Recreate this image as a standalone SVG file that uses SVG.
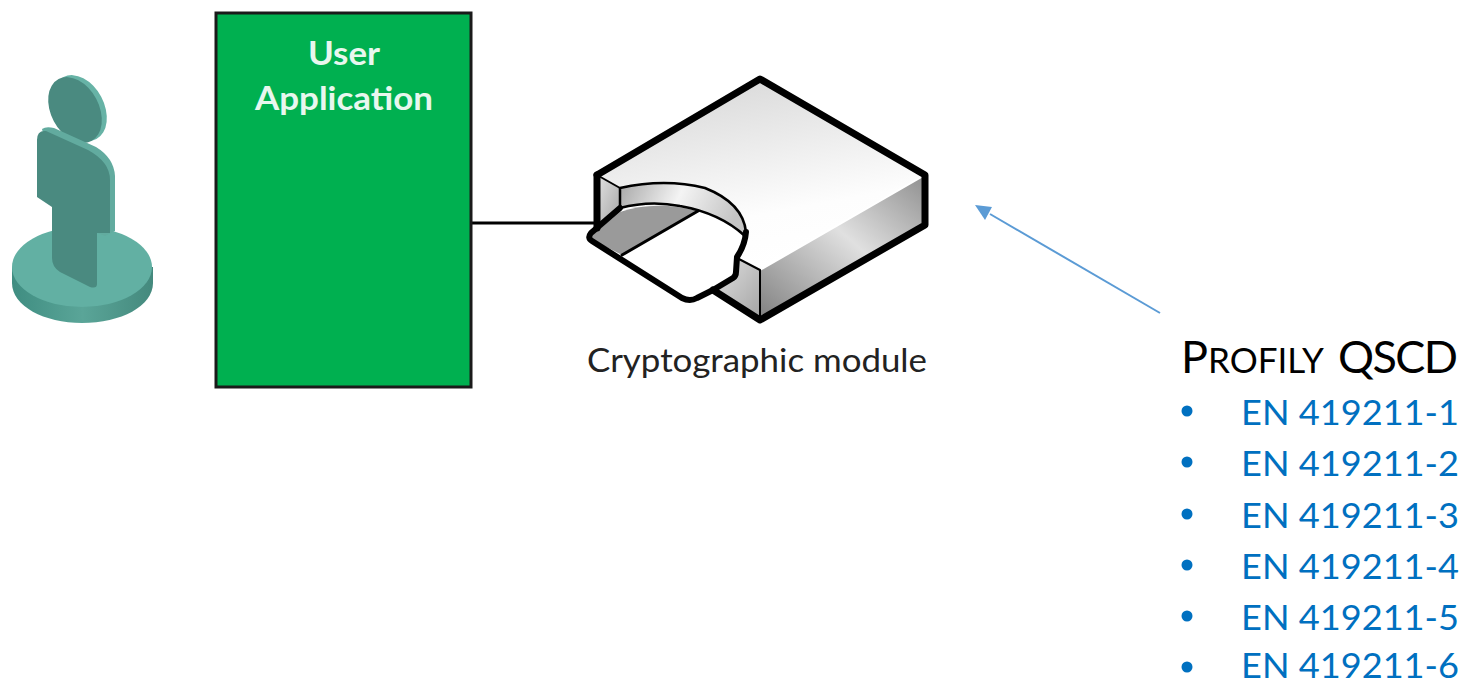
<svg xmlns="http://www.w3.org/2000/svg" width="1468" height="685" viewBox="0 0 1468 685">
<style>
text{font-family:"Lato","Open Sans","Liberation Sans",sans-serif}
.en{font-size:34px;fill:#0070C0}
.bul{fill:#0070C0}
.edge{stroke:#000;stroke-linejoin:round;stroke-linecap:round;fill:none}
</style>
<defs>
<linearGradient id="top" x1="0" y1="0" x2="0.3" y2="1"><stop offset="0" stop-color="#d4d4d4"/><stop offset="0.75" stop-color="#fdfdfd"/><stop offset="1" stop-color="#fff"/></linearGradient>
<linearGradient id="side" x1="0" y1="1" x2="1" y2="0"><stop offset="0" stop-color="#808080"/><stop offset="0.55" stop-color="#e0e0e0"/><stop offset="1" stop-color="#8f8f8f"/></linearGradient>
<linearGradient id="ribbon" x1="0" y1="0" x2="1" y2="0.2"><stop offset="0" stop-color="#a8a8a8"/><stop offset="0.5" stop-color="#f4f4f4"/><stop offset="1" stop-color="#c4c4c4"/></linearGradient>
<linearGradient id="wall" x1="0" y1="0" x2="1" y2="1"><stop offset="0" stop-color="#e2e2e2"/><stop offset="1" stop-color="#a4a4a4"/></linearGradient>
<linearGradient id="rim" x1="0" y1="0" x2="1" y2="0"><stop offset="0" stop-color="#3f8d81"/><stop offset="0.5" stop-color="#5aa598"/><stop offset="1" stop-color="#44897d"/></linearGradient>
</defs>

<g id="connectors">
<line x1="472" y1="223" x2="598" y2="223" stroke="#000" stroke-width="3"/>
<path d="M1160 313L990 214" fill="none" stroke="#5B9BD5" stroke-width="2"/>
<path d="M975 205L992 207L985 220Z" fill="#5B9BD5"/>
</g>

<g id="user">
<path d="M12 267V283C12 306 44 323 82 323C121 323 153 306 153 283V267Z" fill="url(#rim)"/>
<ellipse cx="82" cy="267" rx="70" ry="40" fill="#62b0a3"/>
<ellipse cx="80" cy="108" rx="24" ry="35" transform="rotate(-28 80 108)" fill="#67b3a6"/>
<ellipse cx="75" cy="110" rx="24" ry="35" transform="rotate(-28 75 110)" fill="#4a8a80"/>
<path d="M42 129Q46 126 54 128L96 147Q114 158 115 176V231L105 236L97 233V240L60 200Z" fill="#62ab9f"/>
<path d="M37 140Q37 130 46 131L88 150Q110 162 110 180V233L97 233V284Q97 289 90 287L60 272Q52 267 52 258V207L37 197Z" fill="#4a8a80"/>
</g>

<g id="user-application">
<rect x="216" y="13" width="255" height="374" fill="#00B050" stroke="#1a1a1a" stroke-width="3"/>
<text x="344" y="65" text-anchor="middle" font-size="33" font-weight="700" fill="#e8f7ee" textLength="72" lengthAdjust="spacingAndGlyphs">User</text>
<text x="344" y="110" text-anchor="middle" font-size="33" font-weight="700" fill="#e8f7ee" textLength="178" lengthAdjust="spacingAndGlyphs">Application</text>
</g>

<g id="cryptographic-module">
<path d="M597 175L760 79L925 175L737 282L720 268L640 205L620 188Z" fill="url(#top)"/>
<path d="M760 270L925 175V225L760 320Z" fill="url(#side)"/>
<path d="M597 175L620 188V208L597 228Z" fill="url(#wall)"/>
<path d="M737 258L760 270V320L713 290L735 278Z" fill="url(#wall)"/>
<path d="M589 238L620 212Q655 200 698 211L622 255Z" fill="#9a9a9a"/>
<path d="M622 255L698 211Q735 222 745 233Q743 248 737 257L735 278L690 300Z" fill="#fff"/>
<path d="M620 188Q665 178 705 188Q743 203 746 232L745 236Q720 213 680 206Q650 200 620 208Z" fill="url(#ribbon)" stroke="#000" stroke-width="2.5" stroke-linejoin="round"/>
<path d="M760 270L925 175" fill="none" stroke="#fff" stroke-width="2"/>
<path d="M597 175L760 79L925 175V225L760 320L713 290" class="edge" stroke-width="7"/>
<path d="M597 175V228" class="edge" stroke-width="7"/>
<path d="M620 208L591 233Q587 238 592 241L682 298Q690 302 697 298L713 290L733 278Q736 276 736 272L737 257Q745 245 746 232" class="edge" stroke-width="6"/>
<path d="M597 175L620 188" class="edge" stroke-width="2"/>
<path d="M622 255L698 211" class="edge" stroke-width="3"/>
<path d="M737 258L760 270V320" class="edge" stroke-width="2"/>
<text x="757" y="372" text-anchor="middle" font-size="33" fill="#222" textLength="340" lengthAdjust="spacingAndGlyphs">Cryptographic module</text>
</g>

<g id="profily-qscd">
<text x="1181" y="373" font-size="35" fill="#000"><tspan font-size="45">P</tspan>ROFILY <tspan x="1338" font-size="45" letter-spacing="-1.6">QSCD</tspan></text>
<circle class="bul" cx="1187" cy="411" r="5.5"/>
<circle class="bul" cx="1187" cy="462" r="5.5"/>
<circle class="bul" cx="1187" cy="514" r="5.5"/>
<circle class="bul" cx="1187" cy="565" r="5.5"/>
<circle class="bul" cx="1187" cy="616" r="5.5"/>
<circle class="bul" cx="1187" cy="667" r="5.5"/>
<text class="en" x="1241" y="425" textLength="218" lengthAdjust="spacingAndGlyphs">EN 419211-1</text>
<text class="en" x="1241" y="476" textLength="218" lengthAdjust="spacingAndGlyphs">EN 419211-2</text>
<text class="en" x="1241" y="528" textLength="218" lengthAdjust="spacingAndGlyphs">EN 419211-3</text>
<text class="en" x="1241" y="579" textLength="218" lengthAdjust="spacingAndGlyphs">EN 419211-4</text>
<text class="en" x="1241" y="630" textLength="218" lengthAdjust="spacingAndGlyphs">EN 419211-5</text>
<text class="en" x="1241" y="678" textLength="218" lengthAdjust="spacingAndGlyphs">EN 419211-6</text>
</g>
</svg>
